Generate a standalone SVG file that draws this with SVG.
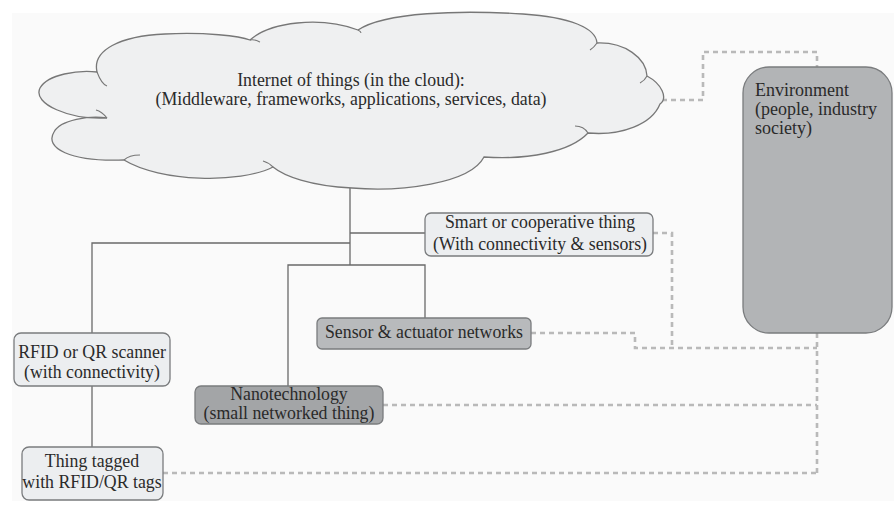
<svg xmlns="http://www.w3.org/2000/svg" width="894" height="516" viewBox="0 0 894 516">
  <style>
    text { font-family: "Liberation Serif", "Times New Roman", serif; fill: #2a2a2a; }
    .t { font-size: 17.8px; text-anchor: middle; }
    .env { font-size: 18px; }
    .box { stroke: #7a7c7e; stroke-width: 1.3; }
    .light { fill: #eceef0; }
    .mid { fill: #b8babc; }
    .dark { fill: #a3a5a7; }
    .solid { fill: none; stroke: #6a6a6a; stroke-width: 1.3; }
    .dash { fill: none; stroke: #b9b9b9; stroke-width: 2.6; stroke-dasharray: 5 4; }
  </style>

  <!-- page background -->
  <rect x="12" y="13" width="882" height="488" fill="#fafafa"/>

  <!-- connectors -->
  <g id="connectors">
    <!-- cloud trunk and branches -->
    <path class="solid" d="M350,188 V265"/>
    <path class="solid" d="M350,233 H425"/>
    <path class="solid" d="M350,243 H92 V333"/>
    <path class="solid" d="M288,386 V265 H425 V318"/>
    <path class="solid" d="M92,386 V447"/>
    <!-- links to environment -->
    <path class="dash" d="M662,100 H703 V52 H817 V67"/>
    <path class="dash" d="M653,233 H672 V348"/>
    <path class="dash" d="M531,333 H635 V348 H817"/>
    <path class="dash" d="M817,333 V473"/>
    <path class="dash" d="M383,405 H817"/>
    <path class="dash" d="M163,473 H817"/>
  </g>

  <!-- cloud -->
  <g id="cloud">
    <path fill="#eff0f1" stroke="#777" stroke-width="1.3" d="
      M107,118
      C70,120 32,104 40,88
      C48,74 78,70 97,72
      C92,50 120,36 165,34
      C205,32 240,36 250,40
      C270,22 320,16 358,30
      C385,12 460,10 523,14
      C570,17 596,28 597,43
      C625,42 646,58 647,76
      C662,84 668,98 660,104
      C652,124 622,136 588,133
      C570,152 528,160 484,157
      C470,184 400,192 352,188
      C310,186 284,176 273,167
      C240,184 160,182 124,160
      C70,162 44,148 54,132
      C60,120 90,115 107,118 Z"/>
    <path fill="none" stroke="#777" stroke-width="1.1" d="M97,72 C100,80 104,85 107,86 M250,40 C255,39 258,41 260,42 M358,30 C360,31 361,32 361,33 M597,43 C595,46 593,48 590,50 M647,76 C645,80 642,82 640,83 M588,133 C585,128 580,126 575,126 M273,167 C270,164 267,162 263,161 M124,160 C128,156 134,155 140,155 M107,118 C103,113 100,111 96,110"/>
    <text class="t" x="351" y="86">Internet of things (in the cloud):</text>
    <text class="t" x="351" y="105">(Middleware, frameworks, applications, services, data)</text>
  </g>

  <!-- environment -->
  <g id="environment">
    <rect class="box" x="743" y="67" width="149" height="266" rx="26" fill="#b2b4b6"/>
    <text class="env" x="755" y="96">Environment</text>
    <text class="env" x="755" y="115">(people, industry</text>
    <text class="env" x="755" y="134">society)</text>
  </g>

  <!-- smart thing -->
  <g id="smart-thing">
    <rect class="box light" x="425" y="213" width="228" height="43" rx="6"/>
    <text class="t" x="540" y="228">Smart or cooperative thing</text>
    <text class="t" x="540" y="250">(With connectivity &amp; sensors)</text>
  </g>

  <!-- sensor and actuator networks -->
  <g id="sensor-networks">
    <rect class="box mid" x="317" y="318" width="214" height="31" rx="5"/>
    <text class="t" x="424" y="338">Sensor &amp; actuator networks</text>
  </g>

  <!-- RFID scanner -->
  <g id="rfid-scanner">
    <rect class="box light" x="14" y="333" width="156" height="53" rx="7"/>
    <text class="t" x="92" y="358">RFID or QR scanner</text>
    <text class="t" x="92" y="378">(with connectivity)</text>
  </g>

  <!-- nanotechnology -->
  <g id="nanotechnology">
    <rect class="box dark" x="195" y="386" width="188" height="38" rx="6"/>
    <text class="t" x="289" y="400">Nanotechnology</text>
    <text class="t" x="289" y="419">(small networked thing)</text>
  </g>

  <!-- tagged thing -->
  <g id="tagged-thing">
    <rect class="box light" x="22" y="447" width="141" height="53" rx="7"/>
    <text class="t" x="92" y="467">Thing tagged</text>
    <text class="t" x="92" y="488">with RFID/QR tags</text>
  </g>
</svg>
